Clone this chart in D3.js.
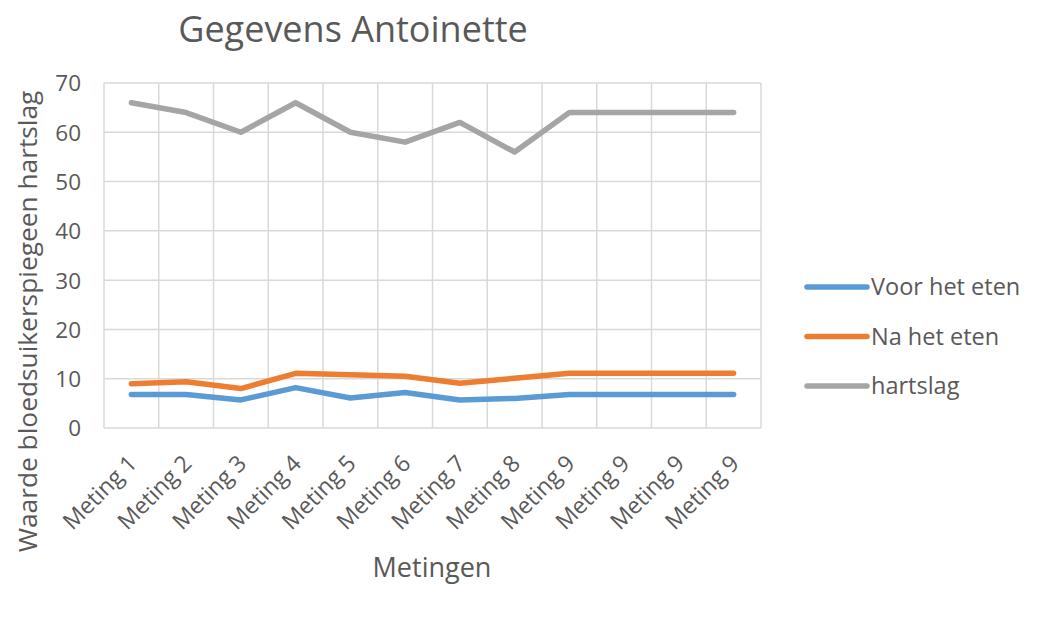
<!DOCTYPE html>
<html>
<head>
<meta charset="utf-8">
<script src="https://cdn.jsdelivr.net/npm/d3@7"></script>
<style>
  body { margin: 0; background: #fff; }
  text { font-family: "Open Sans", sans-serif; fill: #595959; }
</style>
</head>
<body>
<svg id="chart" width="1053" height="621"></svg>
<script>
// data
const categories = ["Meting 1", "Meting 2", "Meting 3", "Meting 4", "Meting 5", "Meting 6",
  "Meting 7", "Meting 8", "Meting 9", "Meting 9", "Meting 9", "Meting 9"]
const voorHetEten = [6.8, 6.8, 5.7, 8.2, 6.1, 7.2, 5.7, 6.0, 6.8, 6.8, 6.8, 6.8]
const naHetEten = [9.0, 9.4, 8.0, 11.1, 10.8, 10.5, 9.1, 10.1, 11.1, 11.1, 11.1, 11.1]
const hartslag = [66, 64, 60, 66, 60, 58, 62, 56, 64, 64, 64, 64]
const yTicks = [0, 10, 20, 30, 40, 50, 60, 70]
const seriesNames = ["Voor het eten", "Na het eten", "hartslag"]
const colors = ["#5b9bd5", "#ed7d31", "#a5a5a5"]

const svg = d3.select("#chart")
const margin = {top: 83, right: 292, bottom: 193, left: 104}
const width = 1053, height = 621

// band scale so each category gets its own cell, lines go through the centers
const x = d3.scaleBand()
  .domain(d3.range(categories.length))
  .range([margin.left, width - margin.right])

const y = d3.scaleLinear()
  .domain([0, 70])
  .range([height - margin.bottom, margin.top])

// grid
const grid = svg.append("g")
grid.selectAll(".hgrid")
  .data(yTicks)
  .join("line")
    .attr("x1", margin.left).attr("x2", width - margin.right)
    .attr("y1", d => y(d)).attr("y2", d => y(d))
    .attr("stroke", "#d9d9d9").attr("stroke-width", 1.5)
grid.selectAll(".vgrid")
  .data(d3.range(categories.length + 1))
  .join("line")
    .attr("x1", i => margin.left + i * x.bandwidth())
    .attr("x2", i => margin.left + i * x.bandwidth())
    .attr("y1", y(70)).attr("y2", y(0))
    .attr("stroke", "#d9d9d9").attr("stroke-width", 1.5)

// y axis labels
svg.append("g")
  .attr("transform", `translate(${margin.left - 23},0)`)
  .call(d3.axisLeft(y).tickValues(yTicks).tickSize(0))
  .call(g => g.select(".domain").remove())
  .call(g => g.selectAll("text")
    .attr("x", 0).attr("dy", "0.35em")
    .style("font-family", "'Open Sans', sans-serif")
    .style("font-size", "22.5px").attr("fill", "#595959"))

// x axis labels, rotated
svg.append("g")
  .selectAll("text")
  .data(categories)
  .join("text")
    .attr("transform", (d, i) => `translate(${x(i) + x.bandwidth() / 2 + 7},${y(0) + 37}) rotate(-45)`)
    .attr("text-anchor", "end")
    .style("font-size", "23px")
    .text(d => d)

// lines
const allSeries = [voorHetEten, naHetEten, hartslag]
const line = d3.line()
  .x((d, i) => x(i) + x.bandwidth() / 2)
  .y(d => y(d))

svg.append("g")
  .selectAll("path")
  .data(allSeries)
  .join("path")
    .attr("fill", "none")
    .attr("stroke", (d, i) => colors[i])
    .attr("stroke-width", 5.5)
    .attr("stroke-linejoin", "round")
    .attr("stroke-linecap", "round")
    .attr("d", line)

// titles
svg.append("text")
  .attr("x", 353).attr("y", 42)
  .attr("text-anchor", "middle")
  .style("font-size", "36px")
  .text("Gegevens Antoinette")

svg.append("text")
  .attr("x", 432).attr("y", 577)
  .attr("text-anchor", "middle")
  .style("font-size", "27px")
  .text("Metingen")

svg.append("text")
  .attr("transform", `translate(37,${(88 + 555) / 2}) rotate(-90)`)
  .attr("text-anchor", "middle")
  .style("font-size", "26.3px")
  .text("Waarde bloedsuikerspiegeen hartslag")

// legend
const legend = svg.append("g")
  .selectAll("g")
  .data(seriesNames)
  .join("g")
    .attr("transform", (d, i) => `translate(807,${287 + i * 49.5})`)
legend.append("line")
  .attr("x1", 0).attr("x2", 60)
  .attr("stroke", (d, i) => colors[i])
  .attr("stroke-width", 5.5)
  .attr("stroke-linecap", "round")
legend.append("text")
  .attr("x", 64).attr("dy", "0.35em")
  .style("font-size", "23.5px")
  .text(d => d)
</script>
</body>
</html>
